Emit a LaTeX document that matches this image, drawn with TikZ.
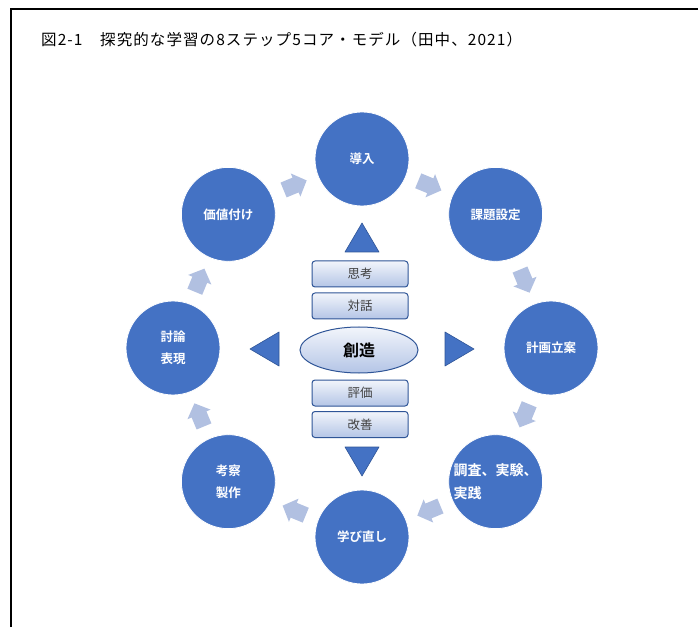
\documentclass[tikz,border=0pt]{standalone}
\usepackage{fontspec}
\setmainfont{Noto Sans CJK JP}
\newfontfamily\jpb{Noto Sans CJK JP Bold}
\newfontfamily\titlefont[LetterSpace=7]{Noto Sans CJK JP}
\usetikzlibrary{calc,shapes.geometric}
\definecolor{cblue}{HTML}{4472C4}
\definecolor{cdark}{HTML}{2F5597}
\definecolor{carrow}{HTML}{B1C0E1}
\definecolor{ctop}{HTML}{F2F5FB}
\definecolor{cbot}{HTML}{B4C5E6}
\tikzset{
  stepcircle/.style={circle, fill=cblue, draw=white, line width=0.8pt, minimum size=94pt, inner sep=0pt,
     text=white, font=\jpb\fontsize{12.5}{22}\selectfont, align=center},
  corebox/.style={rounded corners=3pt, draw=cdark, line width=1pt, top color=ctop, bottom color=cbot,
     minimum width=96pt, minimum height=26pt, inner sep=0pt, text=black!75, font=\fontsize{12.5}{14}\selectfont},
  coreell/.style={ellipse, draw=cdark, line width=1pt, top color=ctop, bottom color=cbot,
     minimum width=118pt, minimum height=46pt, inner sep=0pt, font=\jpb\fontsize{16}{18}\selectfont},
  tri/.style={fill=cblue, draw=cdark, line width=0.6pt, line join=round},
  cyclearrow/.style={fill=carrow, draw=none},
}
\begin{document}
\begin{tikzpicture}[x=1pt,y=1pt]
\useasboundingbox (0,0) rectangle (698,627);
\fill[white] (0,0) rectangle (698,627);
% frame
\draw[line width=1.6pt] (11,0) -- (11,618) -- (698,618);
% title
\node[anchor=west, inner sep=0pt, font=\titlefont\fontsize{15.5}{18}\selectfont] (title) at (41,587)
  {図2-1　探究的な学習の8ステップ5コア・モデル（田中、2021）};
% center
\coordinate (c) at (362,279);
% step circles (clockwise from top)
\node[stepcircle] (s1) at ($(c)+(90:189)$) {導入};
\node[stepcircle] (s2) at ($(c)+(45:189)$) {課題設定};
\node[stepcircle] (s3) at ($(c)+(0:189)$) {計画立案};
\node[stepcircle, align=left, font=\jpb\fontsize{14}{23}\selectfont] (s4) at ($(c)+(-45:189)$) {調査、実験、\\実践};
\node[stepcircle] (s5) at ($(c)+(-90:189)$) {学び直し};
\node[stepcircle] (s6) at ($(c)+(-135:189)$) {考察\\製作};
\node[stepcircle] (s7) at ($(c)+(180:189)$) {討論\\表現};
\node[stepcircle] (s8) at ($(c)+(135:189)$) {価値付け};
% cycle arrows
\foreach \a in {112.5,67.5,22.5,-22.5,-67.5,-112.5,-157.5,157.5}{
  \fill[cyclearrow, shift={($(c)+(\a:176)$)}, rotate=\a-90]
    (-12,-8) -- (1,-8) -- (1,-12.5) -- (13,0) -- (1,12.5) -- (1,8) -- (-12,8) -- cycle;
}
% core
\node[corebox] (k1) at (360,353) {思考};
\node[corebox] (k2) at (360,321) {対話};
\node[coreell] (k3) at (359,277) {創造};
\node[corebox] (k4) at (360,234) {評価};
\node[corebox] (k5) at (360,202.5) {改善};
% triangles
\draw[tri] (362,404) -- (379,375) -- (345,375) -- cycle;
\draw[tri] (362,151) -- (379,180) -- (345,180) -- cycle;
\draw[tri] (250,278) -- (279,295) -- (279,261) -- cycle;
\draw[tri] (474,278) -- (445,295) -- (445,261) -- cycle;
\end{tikzpicture}
\end{document}
